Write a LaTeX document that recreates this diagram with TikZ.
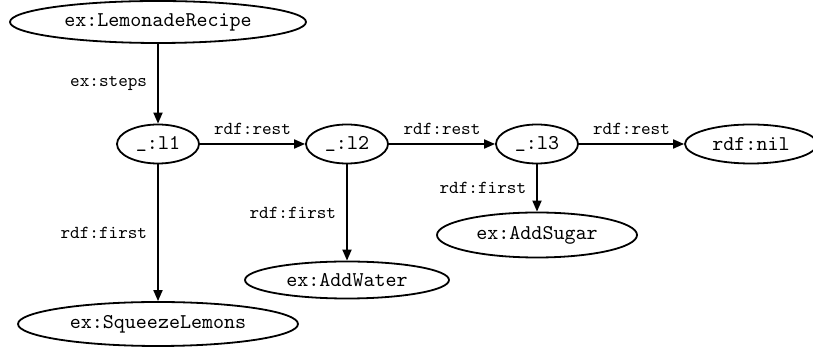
\documentclass[tikz,border=0pt]{standalone}
\usetikzlibrary{shapes.geometric,arrows.meta}
\font\nodefont=cmtt10 at 21pt
\font\labfont=cmtt10 at 18.3pt
\begin{document}
\begin{tikzpicture}[x=1pt,y=1pt,
  res/.style={draw,ellipse,line width=1.8pt,inner sep=0pt,font=\nodefont},
  lab/.style={font=\labfont,inner sep=2pt},
  arr/.style={line width=1.8pt,-{Triangle[length=11pt,width=9pt]}}]
\useasboundingbox (0,0) rectangle (813,347);
\node[res,minimum width=296pt,minimum height=42pt] (lr) at (158,325) {ex:LemonadeRecipe};
\node[res,minimum width=82pt,minimum height=39pt] (l1) at (158,203) {\_:l1};
\node[res,minimum width=82pt,minimum height=39pt] (l2) at (347,203) {\_:l2};
\node[res,minimum width=82pt,minimum height=39pt] (l3) at (537,203) {\_:l3};
\node[res,minimum width=132pt,minimum height=39pt] (nil) at (751,203) {rdf:nil};
\node[res,minimum width=200pt,minimum height=45pt] (sugar) at (537,112) {ex:AddSugar};
\node[res,minimum width=204pt,minimum height=37pt] (water) at (347,67) {ex:AddWater};
\node[res,minimum width=280pt,minimum height=44pt] (squeeze) at (158,23) {ex:SqueezeLemons};
\draw[arr] (lr) -- node[lab,left=8pt] {ex:steps} (l1);
\draw[arr] (l1) -- node[lab,above=7pt] {rdf:rest} (l2);
\draw[arr] (l2) -- node[lab,above=7pt] {rdf:rest} (l3);
\draw[arr] (l3) -- node[lab,above=7pt] {rdf:rest} (nil);
\draw[arr] (l1) -- node[lab,left=8pt] {rdf:first} (squeeze);
\draw[arr] (l2) -- node[lab,left=8pt] {rdf:first} (water);
\draw[arr] (l3) -- node[lab,left=8pt] {rdf:first} (sugar);
\end{tikzpicture}
\end{document}
